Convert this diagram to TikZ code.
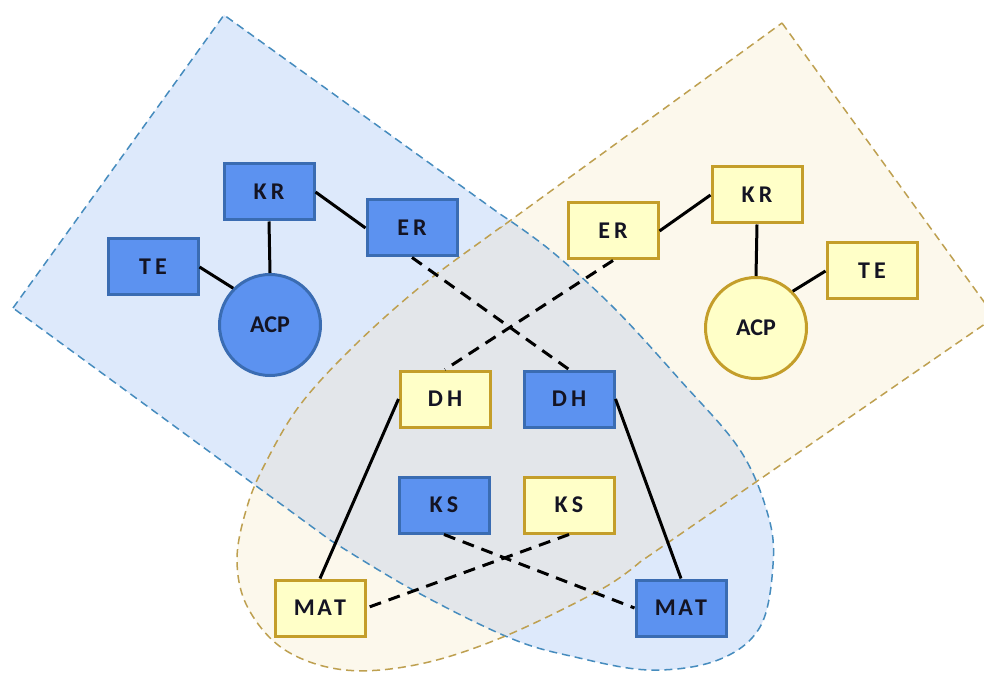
\documentclass[tikz,border=0pt]{standalone}
\usepackage{fontspec}
\setmainfont{Carlito}
\definecolor{bnode}{RGB}{92,146,240}
\definecolor{bedge}{RGB}{58,108,178}
\definecolor{ynode}{RGB}{255,255,200}
\definecolor{yedge}{RGB}{196,158,42}
\definecolor{breg}{RGB}{221,233,251}
\definecolor{bregedge}{RGB}{70,140,190}
\definecolor{yreg}{RGB}{252,248,236}
\definecolor{yregedge}{RGB}{190,160,80}
\definecolor{overlapc}{RGB}{227,230,234}
\definecolor{txt}{RGB}{20,20,35}
\newcommand\lgap{\kern0.17em}
\tikzset{
  box/.style={rectangle, minimum width=45pt, minimum height=28pt, inner sep=0pt,
    line width=1.5pt, font=\fontsize{12}{14}\selectfont\bfseries, text=txt},
  bbox/.style={box, fill=bnode, draw=bedge},
  ybox/.style={box, fill=ynode, draw=yedge},
  disc/.style={circle, minimum size=50.5pt, inner sep=0pt, line width=1.5pt,
    font=\fontsize{12}{14}\selectfont\bfseries, text=txt},
  bdisc/.style={disc, fill=bnode, draw=bedge},
  ydisc/.style={disc, fill=ynode, draw=yedge},
  link/.style={line width=1.5pt, black},
  dlink/.style={link, dash pattern=on 6pt off 4pt},
  regline/.style={line width=0.75pt, dash pattern=on 4pt off 2.5pt},
  bluepath/.style={insert path={(13,308) -- (224,15) -- plot[smooth, tension=0.6] coordinates
    {(500,214) (550,250) (613,307) (680,380) (740,450) (768,515) (773,565) (760,627) (718,660) (650,670) (575,657) (510,638) (413,590) (330,540)} -- cycle}},
  yellowpath/.style={insert path={(782,23) -- (995,317) -- plot[smooth, tension=0.6] coordinates
    {(640,562) (600,590) (503,637) (420,664) (345,670) (285,650) (248,608) (237,560) (247,507) (266,462) (300,405) (353,347) (420,287) (490,235) (500,228)} -- cycle}},
}
\begin{document}
\begin{tikzpicture}[x=0.5pt,y=-0.5pt]
\useasboundingbox (0,0) rectangle (984,673);
\clip (0,0) rectangle (984,673);
\fill[white] (0,0) rectangle (984,673);
% regions
\path[fill=breg, bluepath];
\path[fill=yreg, yellowpath];
\begin{scope}
  \path[clip, bluepath];
  \path[fill=overlapc, yellowpath];
\end{scope}
\path[draw=bregedge, regline, bluepath];
\path[draw=yregedge, regline, yellowpath];
% blue cluster
\node[bbox] (bKR) at (269,192) {K\lgap R};
\node[bbox] (bER) at (412,228) {E\lgap R};
\node[bbox] (bTE) at (153,267) {T\lgap E};
\node[bdisc] (bACP) at (270,325) {ACP};
% yellow cluster
\node[ybox] (yER) at (613,231) {E\lgap R};
\node[ybox] (yKR) at (757,195) {K\lgap R};
\node[ybox] (yTE) at (872,271) {T\lgap E};
\node[ydisc] (yACP) at (756,328) {ACP};
% middle
\node[ybox] (yDH) at (445,399) {D\lgap H};
\node[bbox] (bDH) at (569,399) {D\lgap H};
\node[bbox] (bKS) at (444,505) {K\lgap S};
\node[ybox] (yKS) at (569,505) {K\lgap S};
\node[ybox] (yMAT) at (320,608) {M\kern0.1em A\kern0.1em T};
\node[bbox] (bMAT) at (681,608) {M\kern0.1em A\kern0.1em T};
% connectors
\draw[link] (bKR.east) -- (bER.west);
\draw[link] (bKR.south) -- (bACP.north);
\draw[link] (bTE.east) -- (bACP.135);
\draw[link] (yER.east) -- (yKR.west);
\draw[link] (yKR.south) -- (yACP.north);
\draw[link] (yTE.west) -- (yACP.45);
\draw[dlink] (bER.south) -- (bDH.north);
\draw[dlink] (yER.south) -- (yDH.north);
\draw[link] (yDH.west) -- (yMAT.north);
\draw[link] (bDH.east) -- (bMAT.north);
\draw[dlink] (bKS.south) -- (bMAT.west);
\draw[dlink] (yKS.south) -- (yMAT.east);
\end{tikzpicture}
\end{document}
